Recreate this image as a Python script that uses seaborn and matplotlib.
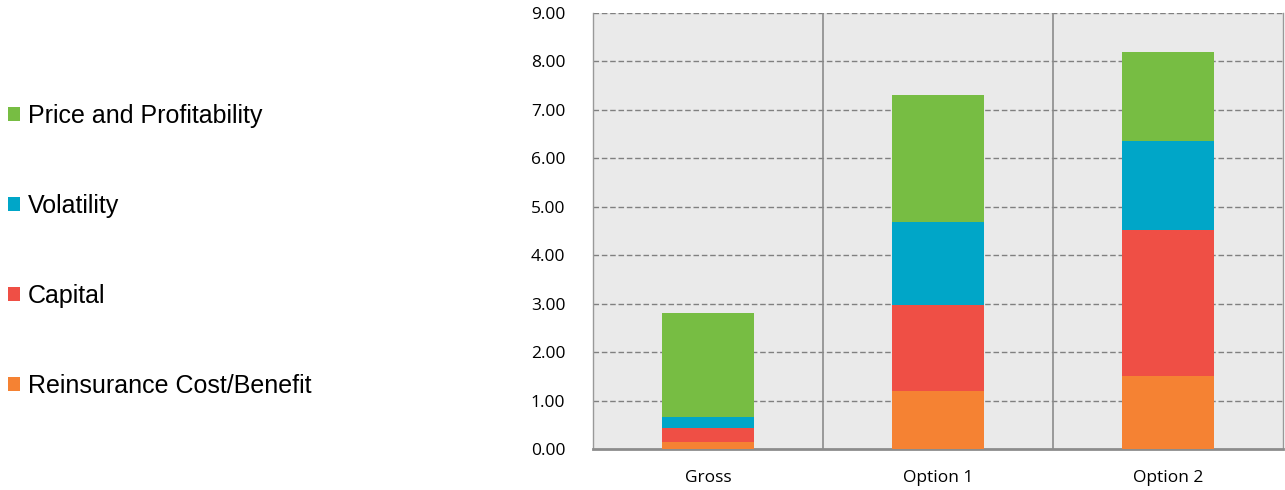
import numpy as np
import pandas as pd
import seaborn as sns
import matplotlib.pyplot as plt
from matplotlib.patches import Patch

# Datos
categories = ['Gross', 'Option 1', 'Option 2']
reinsurance = [0.14, 1.20, 1.51]
capital = [0.30, 1.77, 3.02]
volatility = [0.22, 1.72, 1.83]
price = [2.14, 2.61, 1.84]

series_names = ['Reinsurance Cost/Benefit', 'Capital', 'Volatility', 'Price and Profitability']
series_values = [reinsurance, capital, volatility, price]
colors = ['#F58233', '#EF4F45', '#00A6C8', '#77BD43']

df = pd.DataFrame({'Categoria': categories})
for name, vals in zip(series_names, series_values):
    df[name] = vals
# acumulado para apilar (se dibuja del total hacia abajo)
cum = df[series_names].cumsum(axis=1)

sns.set_style('white')
plt.rcParams['font.family'] = ['Open Sans', 'DejaVu Sans']
plt.rcParams['text.color'] = 'black'
plt.rcParams['xtick.color'] = 'black'
plt.rcParams['ytick.color'] = 'black'

fig = plt.figure(figsize=(12.85, 4.9), dpi=100)
ax = fig.add_axes([593 / 1285, 41 / 490, 690 / 1285, 436 / 490])
ax.set_facecolor('#EAEAEA')

for name, color in reversed(list(zip(series_names, colors))):
    sns.barplot(x=df['Categoria'], y=cum[name], color=color, width=0.4,
                saturation=1, ax=ax, zorder=3, edgecolor='none')

ax.set_ylim(0, 9)
ax.set_xlim(-0.5, 2.5)
ax.set_yticks(np.arange(0, 10, 1))
ax.set_yticklabels([f'{v:.2f}' for v in np.arange(0, 10, 1)], fontsize=12.5)
ax.tick_params(axis='y', length=0, pad=20)
ax.tick_params(axis='x', length=0, pad=15, labelsize=12.5)
ax.set_xlabel('')
ax.set_ylabel('')

for y in range(1, 10):
    ax.axhline(y, color='#808080', lw=1, ls=(0, (4, 2)), zorder=1)
for x in [0.5, 1.5]:
    ax.axvline(x, color='#8C8C8C', lw=1.2, zorder=1)

for side in ['left', 'right']:
    ax.spines[side].set_color('#999999')
    ax.spines[side].set_linewidth(1)
ax.spines['top'].set_visible(False)
ax.spines['bottom'].set_color('#8C8C8C')
ax.spines['bottom'].set_linewidth(2)

# Leyenda a la izquierda, orden inverso (arriba: Price and Profitability)
handles = [Patch(facecolor=c, edgecolor='none') for c in reversed(colors)]
labels = list(reversed(series_names))
fig.legend(handles, labels, loc='center left', bbox_to_anchor=(0.0, 0.488),
           frameon=False, prop={'family': 'Liberation Sans', 'size': 18},
           handlelength=0.48, handleheight=0.48, handletextpad=0.32,
           labelspacing=2.63, borderpad=0, borderaxespad=0.32)

fig.savefig('out.png', dpi=100)
